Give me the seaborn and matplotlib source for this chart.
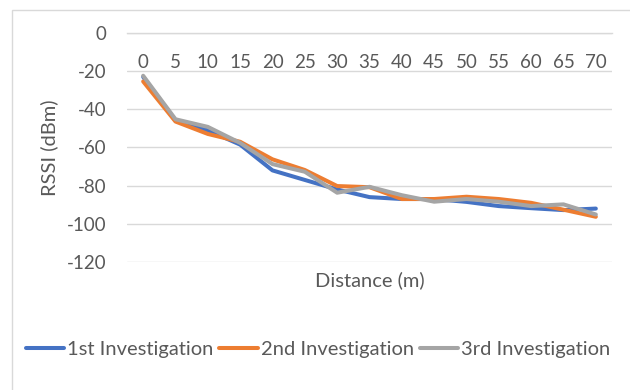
import matplotlib
matplotlib.use("Agg")
import matplotlib.pyplot as plt
import seaborn as sns
import pandas as pd
from matplotlib.patches import Rectangle

distance = [0, 5, 10, 15, 20, 25, 30, 35, 40, 45, 50, 55, 60, 65, 70]
inv1 = [-23, -46, -51, -58.5, -72, -77, -82, -86, -87, -87, -88.5, -90.7, -91.8, -92.8, -92]
inv2 = [-25.4, -46.4, -52.9, -57, -66.2, -71.8, -80.2, -80.8, -87, -87, -85.8, -87, -89, -92.6, -96.3]
inv3 = [-22.4, -45.2, -49.2, -57.6, -68.7, -72.7, -83.7, -80.6, -85, -88.4, -87, -88.4, -90.7, -89.8, -95.1]
series_names = ["1st Investigation", "2nd Investigation", "3rd Investigation"]
y_ticks = [0, -20, -40, -60, -80, -100, -120]

df = pd.DataFrame({
    "Distance (m)": distance * 3,
    "RSSI (dBm)": inv1 + inv2 + inv3,
    "series": [series_names[0]] * len(distance) + [series_names[1]] * len(distance) + [series_names[2]] * len(distance),
})

sns.set_theme(style="white")
plt.rcParams["font.family"] = ["Lato", "DejaVu Sans"]
plt.rcParams["axes.unicode_minus"] = False

txt = "#595959"
grid = "#D9D9D9"
palette = {series_names[0]: "#4472C4", series_names[1]: "#ED7D31", series_names[2]: "#A5A5A5"}

fig = plt.figure(figsize=(6.3, 3.9), dpi=100)
ax = fig.add_axes([127 / 630, 128 / 390, 485 / 630, 229 / 390])

sns.lineplot(data=df, x="Distance (m)", y="RSSI (dBm)", hue="series", palette=palette,
             linewidth=2.9, ax=ax, legend=True)

ax.set_xlim(-2.5, 72.5)
ax.set_ylim(-120, 0)
ax.set_yticks(y_ticks)
ax.set_yticklabels([str(v) for v in y_ticks])
ax.set_xticks(distance)
ax.set_xticklabels([str(v) for v in distance])

for s in ["top", "right", "left"]:
    ax.spines[s].set_visible(False)
ax.spines["bottom"].set_position(("data", 0))
ax.spines["bottom"].set_color(grid)
ax.spines["bottom"].set_linewidth(1.0)
ax.yaxis.grid(True, color=grid, linewidth=1.0)
ax.set_axisbelow(True)

ax.tick_params(axis="x", length=0, pad=15, labelsize=13.5, colors=txt)
ax.tick_params(axis="y", length=0, pad=15, labelsize=13.5, colors=txt)

ax.set_xlabel("Distance (m)", fontsize=14.5, color=txt)
ax.xaxis.set_label_coords(0.5, (262 - 280) / 229)
ax.xaxis.label.set_va("center")
ax.set_ylabel("RSSI (dBm)", fontsize=14.5, color=txt)
ax.yaxis.set_label_coords((49 - 127) / 485, 0.5)
ax.yaxis.label.set_va("center")

handles, labels = ax.get_legend_handles_labels()
ax.get_legend().remove()
leg = fig.legend(handles, labels, loc="center", bbox_to_anchor=(318 / 630, 41 / 390), ncol=3,
                 frameon=False, fontsize=14.5, handlelength=1.9, handletextpad=0.15,
                 columnspacing=0.3)
for t in leg.get_texts():
    t.set_color(txt)
for h in leg.legend_handles:
    h.set_linewidth(2.9)

fig.patches.append(Rectangle((12 / 630, -0.2), 2.0, (380 / 390) + 0.2, transform=fig.transFigure,
                             fill=False, edgecolor=grid, linewidth=1.0))

fig.savefig("out.png", dpi=100)
